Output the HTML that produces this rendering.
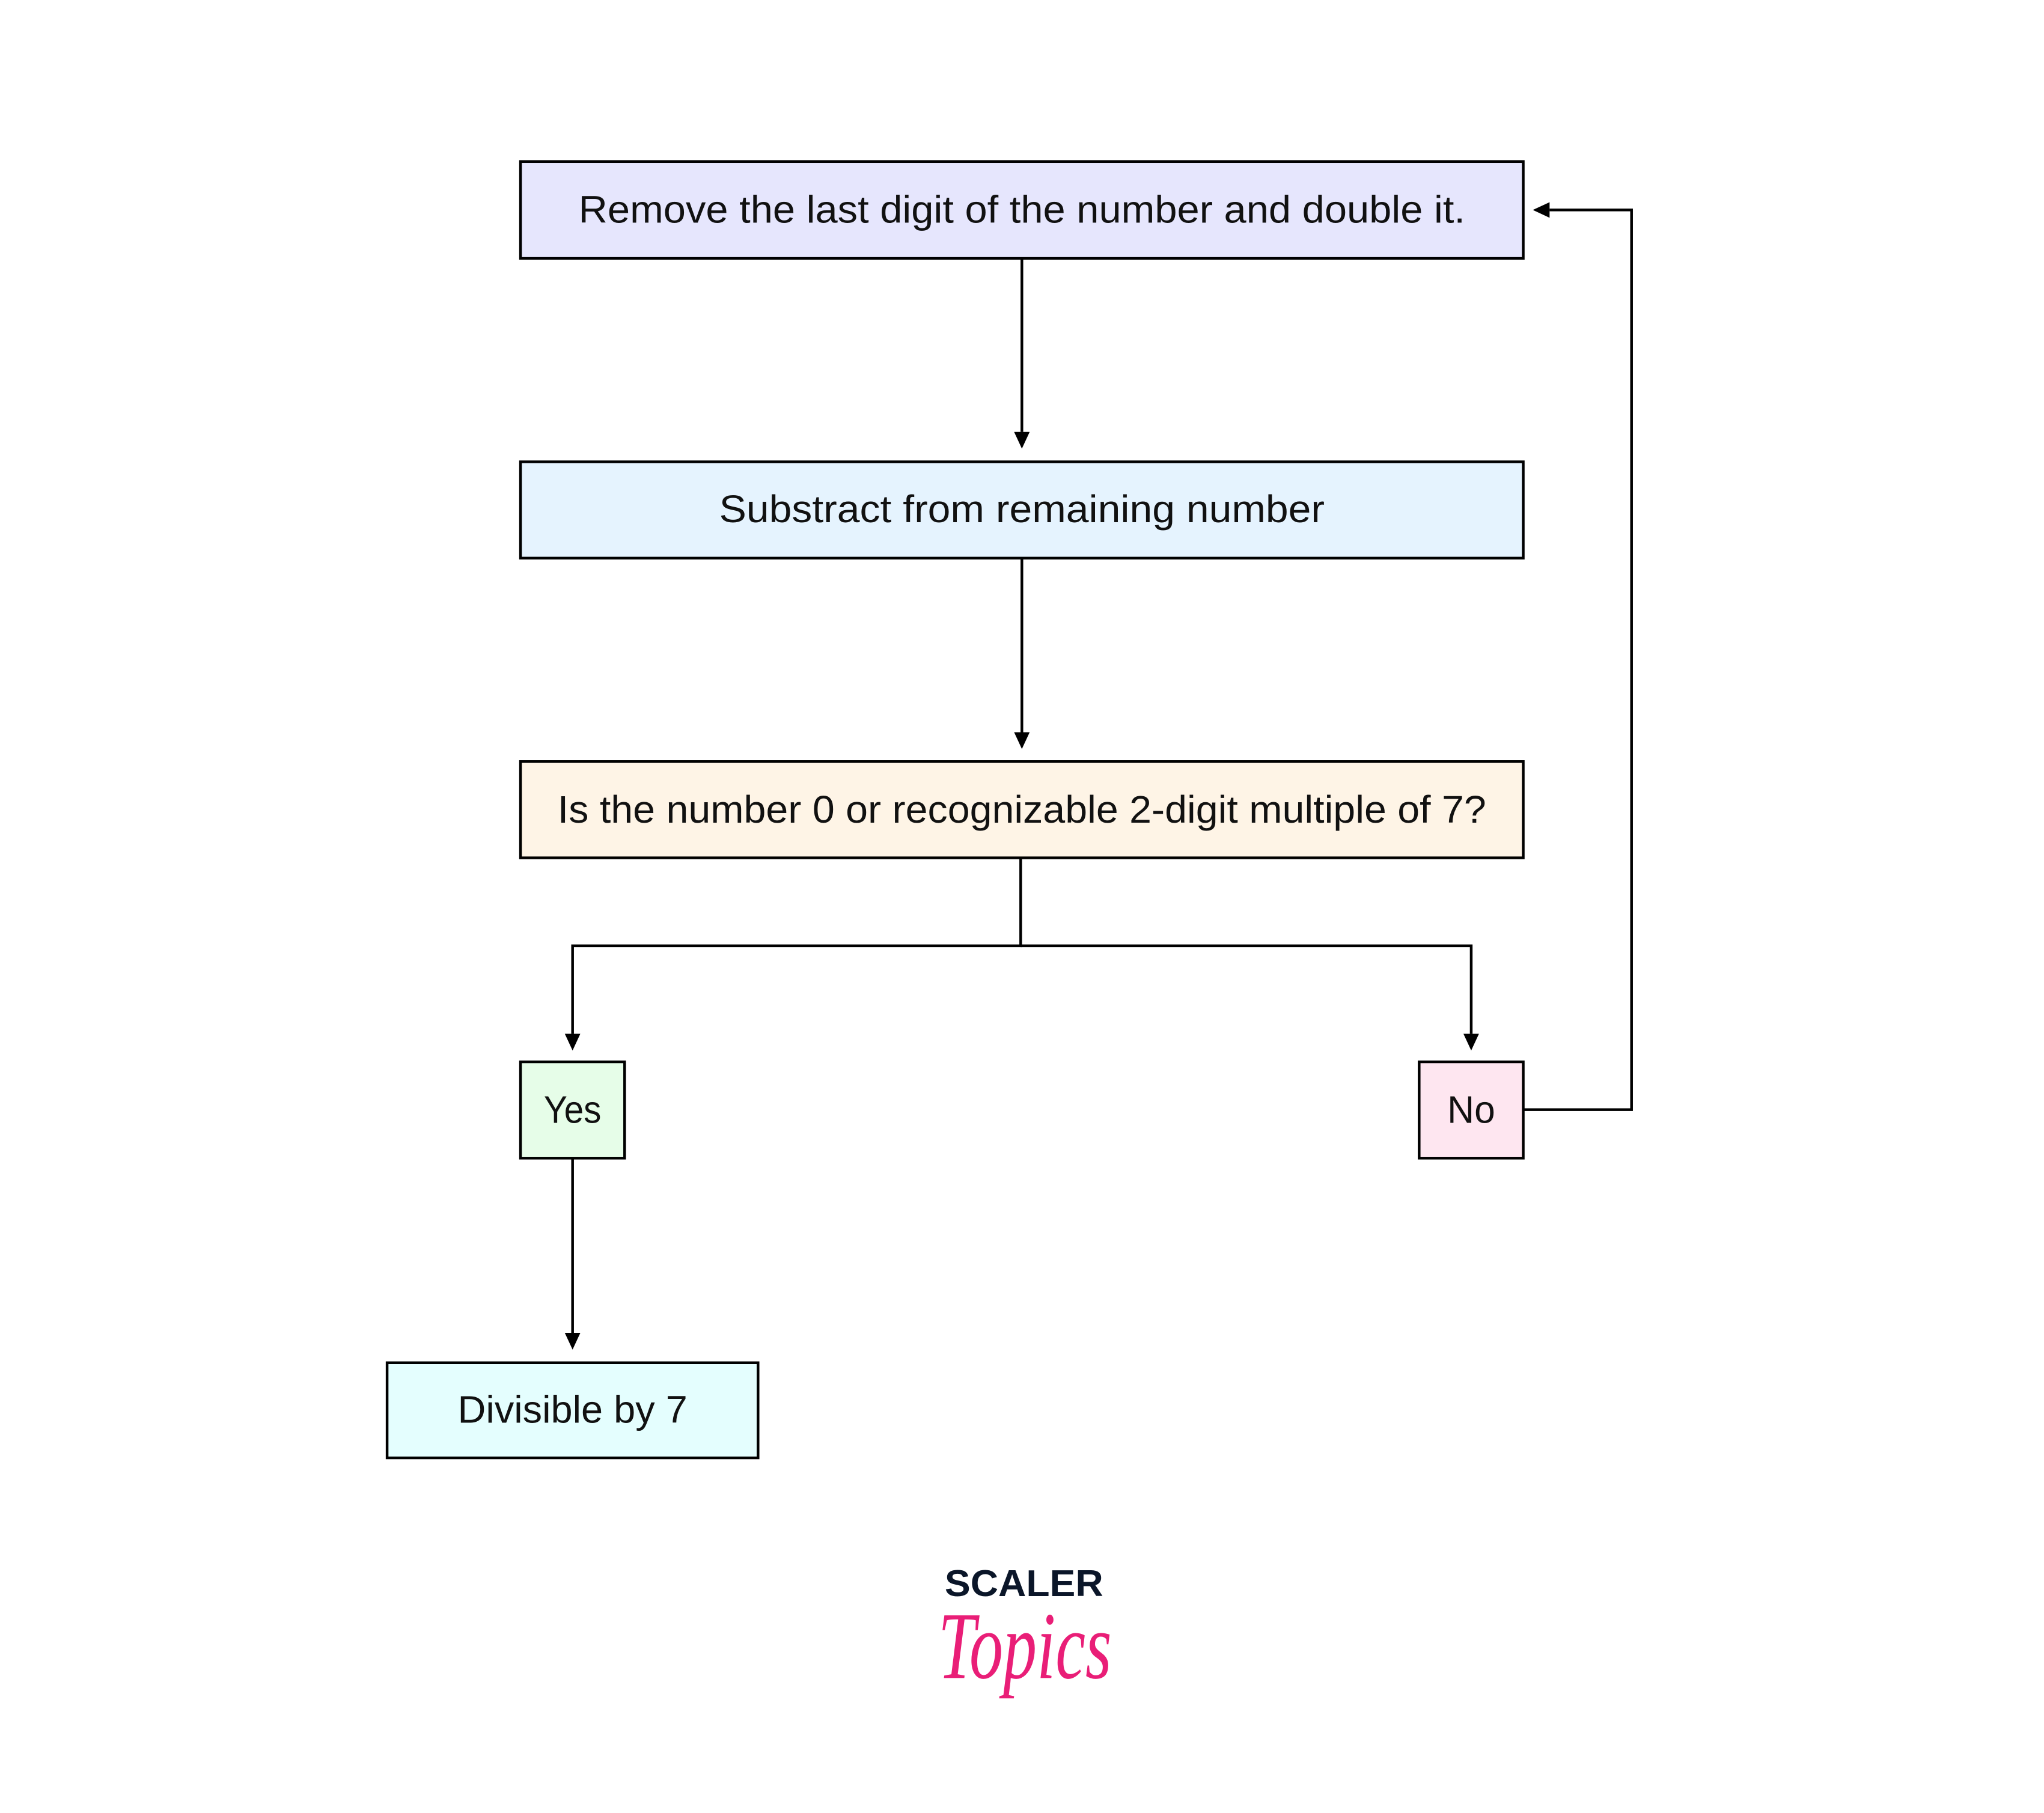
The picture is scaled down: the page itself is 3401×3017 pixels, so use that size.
<!DOCTYPE html>
<html><head><meta charset="utf-8"><style>html,body{margin:0;padding:0;background:#fff}svg{display:block}</style></head>
<body>
<svg width="3401" height="3017" viewBox="0 0 3401 3017" xmlns="http://www.w3.org/2000/svg" font-family="Liberation Sans, sans-serif">
<g transform="scale(0.9955)">
<g stroke="#000" stroke-width="4.5" fill="none">
<rect x="870" y="270" width="1676" height="162" fill="#e6e6fd"/>
<rect x="870" y="772" width="1676" height="161" fill="#e5f3fe"/>
<rect x="870" y="1273" width="1676" height="161" fill="#fef4e6"/>
<rect x="870" y="1775" width="174" height="161" fill="#e6fde8"/>
<rect x="2372" y="1775" width="174" height="161" fill="#fee6f0"/>
<rect x="647" y="2278" width="620" height="159" fill="#e4fefe"/>
<line x1="1708" y1="432" x2="1708" y2="722"/>
<line x1="1708" y1="933" x2="1708" y2="1224"/>
<polyline points="1706,1434 1706,1581 957,1581 957,1728"/>
<polyline points="1706,1581 2459,1581 2459,1728"/>
<line x1="957" y1="1936" x2="957" y2="2228"/>
<polyline points="2546,1855 2727,1855 2727,351 2590,351"/>
</g>
<g fill="#000">
<path d="M1695,722 L1721,722 L1708,750 z"/>
<path d="M1695,1224 L1721,1224 L1708,1252 z"/>
<path d="M944,1728 L970,1728 L957,1756 z"/>
<path d="M2446,1728 L2472,1728 L2459,1756 z"/>
<path d="M944,2228 L970,2228 L957,2256 z"/>
<path d="M2590,338 L2590,364 L2562,351 z"/>
</g>
<g font-size="64" fill="#111" text-anchor="middle">
<text x="1708" y="372" textLength="1482" lengthAdjust="spacingAndGlyphs">Remove the last digit of the number and double it.</text>
<text x="1708" y="873" textLength="1012" lengthAdjust="spacingAndGlyphs">Substract from remaining number</text>
<text x="1708" y="1375" textLength="1552" lengthAdjust="spacingAndGlyphs">Is the number 0 or recognizable 2-digit multiple of 7?</text>
<text x="957" y="1877" textLength="96" lengthAdjust="spacingAndGlyphs">Yes</text>
<text x="2459" y="1877" textLength="80" lengthAdjust="spacingAndGlyphs">No</text>
<text x="957" y="2378" textLength="384" lengthAdjust="spacingAndGlyphs">Divisible by 7</text>
</g>
<text x="1579" y="2668" font-size="62" font-weight="bold" fill="#0b1629" textLength="265" lengthAdjust="spacingAndGlyphs">SCALER</text>
<text x="1568" y="2805" font-size="160" font-style="italic" font-family="Liberation Serif, serif" fill="#e91e77" textLength="290" lengthAdjust="spacingAndGlyphs">Topics</text>
</g>
</svg>
</body></html>
